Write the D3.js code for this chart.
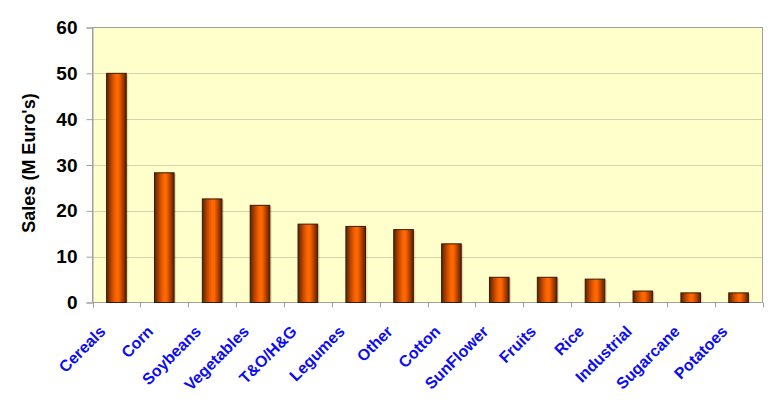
<!DOCTYPE html>
<html><head><meta charset="utf-8">
<script src="https://cdn.jsdelivr.net/npm/d3@7"></script>
<style>body{margin:0;background:#fff;}svg{display:block;font-family:"Liberation Sans",Arial,sans-serif;}</style>
</head><body><svg id="c" width="775" height="407"></svg>
<script>
const categories = ["Cereals","Corn","Soybeans","Vegetables","T&O/H&G","Legumes","Other","Cotton","SunFlower","Fruits","Rice","Industrial","Sugarcane","Potatoes"];
const sales = [50, 28.3, 22.6, 21.2, 17.1, 16.6, 15.9, 12.8, 5.5, 5.5, 5.1, 2.5, 2.1, 2.1];
const yTicks = [0, 10, 20, 30, 40, 50, 60];
const yTitle = "Sales (M Euro's)";

const svg = d3.select("#c");
const L = 92.5, R = 762.5, T = 27.5, B = 302.5;
const x = d3.scaleBand().domain(categories).range([L, R]).paddingInner(0.59).paddingOuter(0.295);
const xb = d3.scaleBand().domain(categories).range([L, R]);
const y = d3.scaleLinear().domain([0, 60]).range([B, T]);

const defs = svg.append("defs");
const g = defs.append("linearGradient").attr("id", "bar").attr("x1", "0").attr("x2", "1").attr("y1", "0").attr("y2", "0");
[[0, "#5a2200"], [0.3, "#d04e00"], [0.5, "#ff6a00"], [0.62, "#ff6200"], [1, "#5a2000"]].forEach(([o, c]) => g.append("stop").attr("offset", o).attr("stop-color", c));

svg.append("rect").attr("x", L).attr("y", T).attr("width", R - L).attr("height", B - T).attr("fill", "#ffffcc");

// gridlines
svg.append("g").selectAll("line").data(yTicks.filter(d => d > 0 && d < 60)).join("line")
  .attr("x1", L).attr("x2", R).attr("y1", d => Math.round(y(d)) + 0.5).attr("y2", d => Math.round(y(d)) + 0.5)
  .attr("stroke", "#d6d4b0").attr("stroke-width", 1);

// plot border
svg.append("rect").attr("x", L).attr("y", T).attr("width", R - L).attr("height", B - T).attr("fill", "none").attr("stroke", "#a0a0a0");

// bars shadow
svg.append("g").selectAll("rect").data(sales).join("rect")
  .attr("x", (d, i) => x(categories[i]) + 2).attr("y", d => y(d) + 1)
  .attr("width", x.bandwidth()).attr("height", d => B - y(d) - 1)
  .attr("fill", "#000").attr("opacity", 0.12);
// bars
svg.append("g").selectAll("rect").data(sales).join("rect")
  .attr("x", (d, i) => x(categories[i])).attr("y", d => y(d))
  .attr("width", x.bandwidth()).attr("height", d => B - y(d))
  .attr("fill", "url(#bar)").attr("stroke", "#3a1800").attr("stroke-width", 1);

// y axis
const ya = svg.append("g").attr("transform", `translate(${L},0)`)
  .call(d3.axisLeft(y).tickValues(yTicks).tickSize(6).tickPadding(9));
ya.attr("font-size", null).attr("font-family", null);
ya.select(".domain").attr("stroke", "#a0a0a0");
ya.selectAll(".tick line").attr("stroke", "#a0a0a0");
ya.selectAll("text").style("font-size", "19px").style("font-weight", "bold").attr("fill", "#000")
  .style("font-family", "Liberation Sans, Arial, sans-serif");

// x axis ticks at boundaries
const bounds = categories.map(c => xb(c)).concat([R]);
svg.append("g").selectAll("line").data(bounds).join("line")
  .attr("x1", d => Math.round(d) + 0.5).attr("x2", d => Math.round(d) + 0.5).attr("y1", B).attr("y2", B + 5)
  .attr("stroke", "#a0a0a0");

// x labels
svg.append("g").selectAll("text").data(categories).join("text")
  .attr("transform", d => `translate(${xb(d) + xb.bandwidth() / 2 - 10},${B + 30}) rotate(-45)`)
  .attr("text-anchor", "end").style("font-size", "16px").style("font-weight", "bold").attr("fill", "#0c0cf0")
  .text(d => d);

// y title
svg.append("text").attr("transform", `translate(35,163) rotate(-90)`)
  .attr("text-anchor", "middle").style("font-size", "18px").style("font-weight", "bold").attr("fill", "#000")
  .text(yTitle);
</script></body></html>
